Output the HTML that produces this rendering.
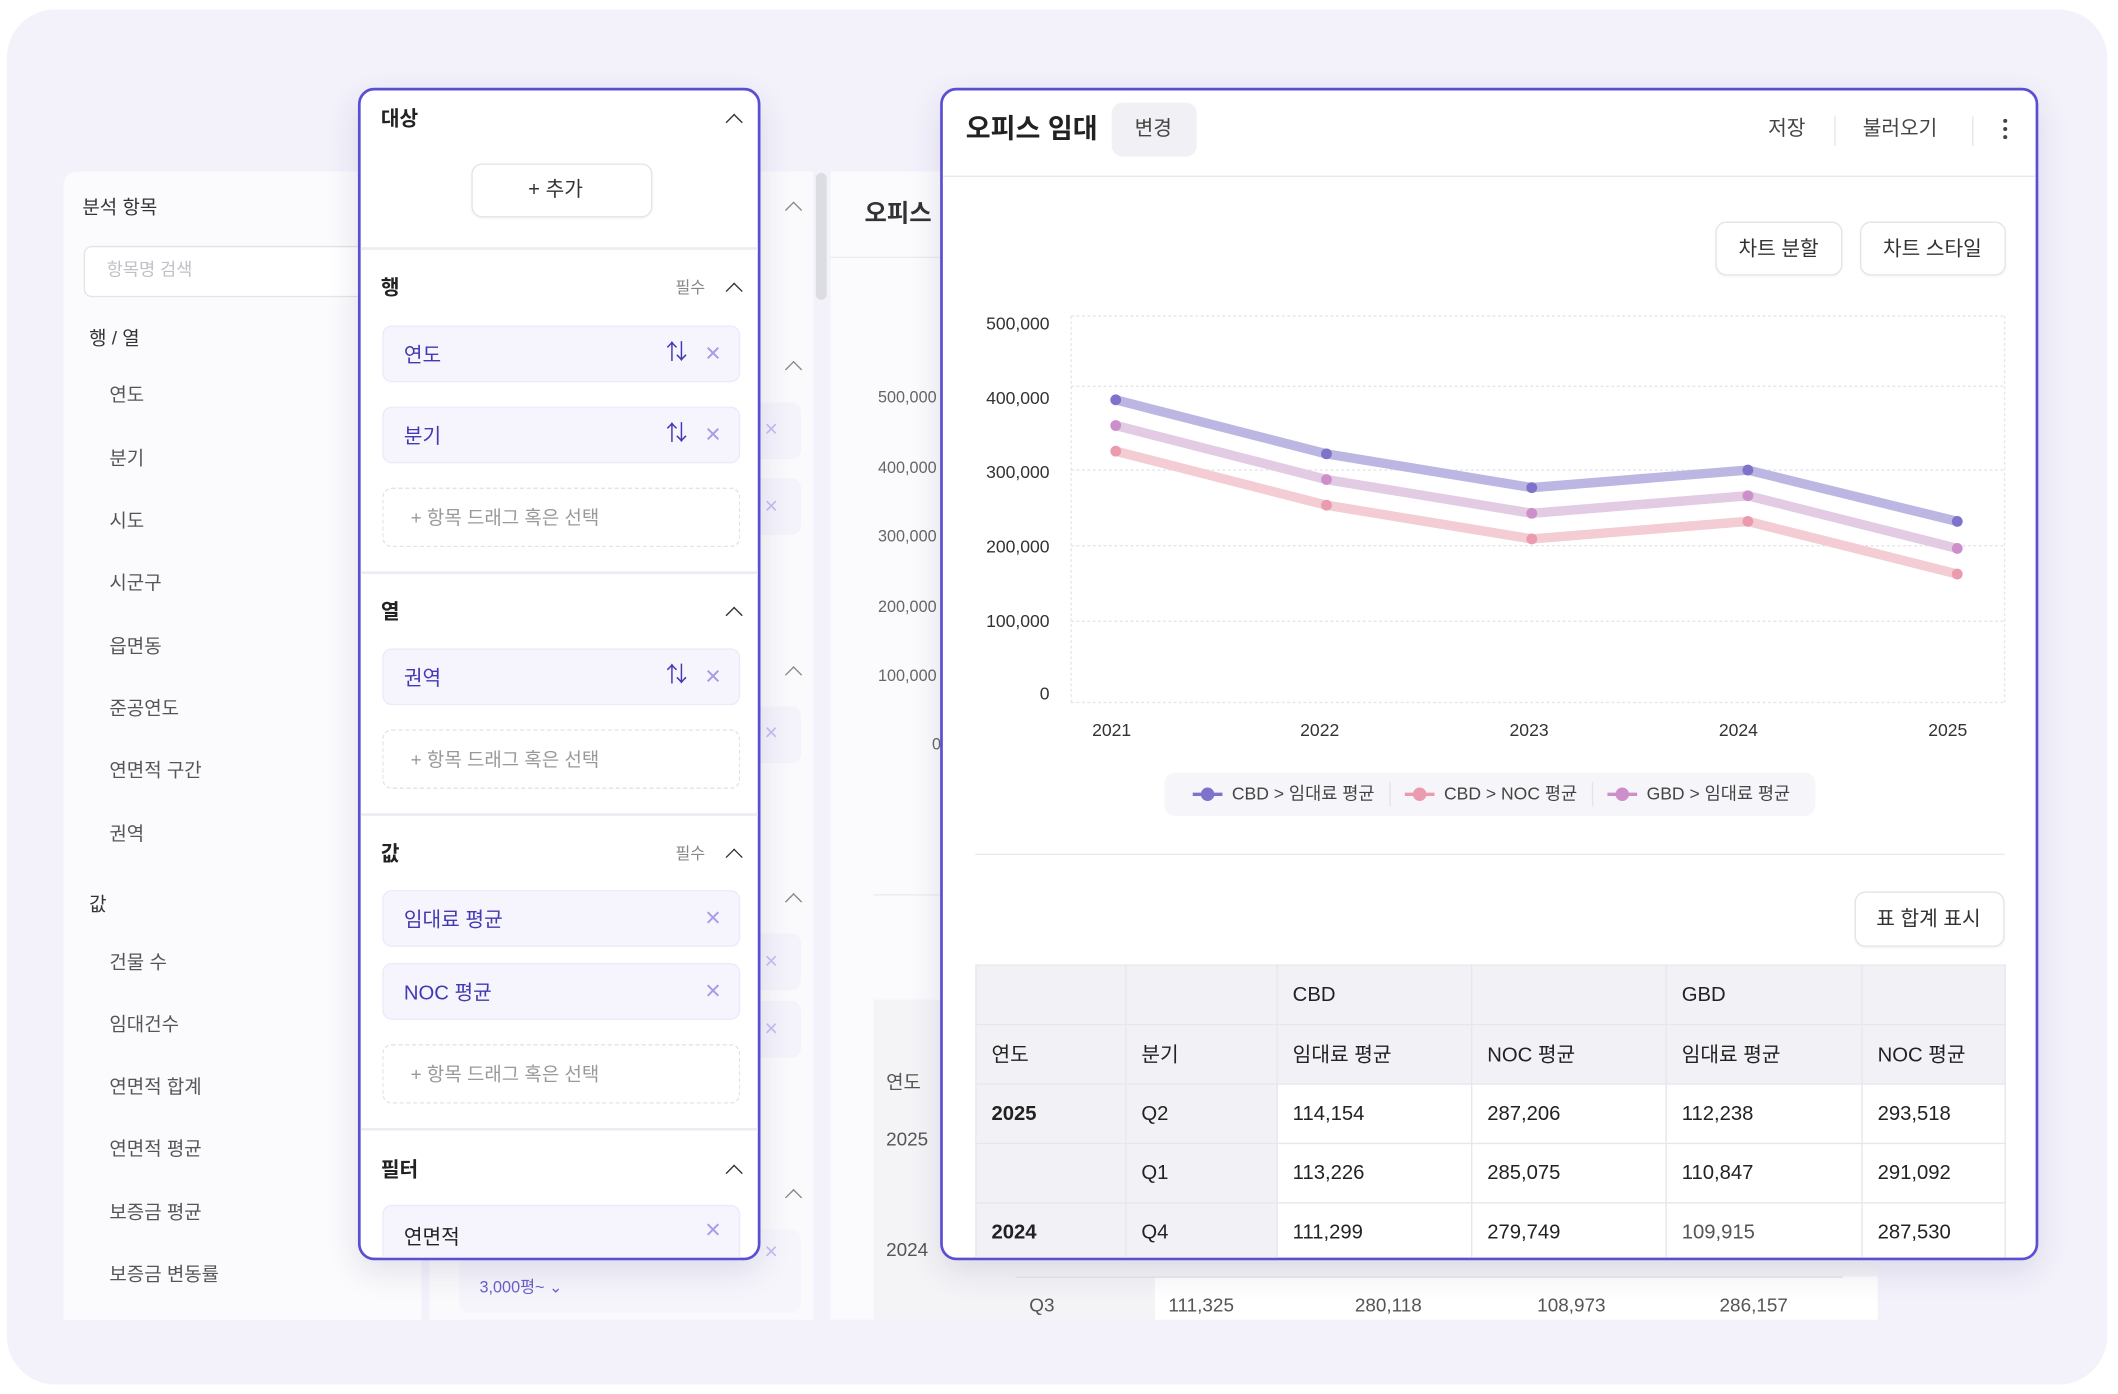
<!DOCTYPE html>
<html><head><meta charset="utf-8">
<style>
html,body{margin:0;padding:0;background:#fff;overflow:hidden;}
body{width:2118px;height:1394px;}
#w{position:absolute;left:0;top:0;width:1568px;height:1032px;transform:scale(1.35077);transform-origin:0 0;font-family:"Liberation Sans","Noto Sans CJK KR",sans-serif;color:#222;}
.a{position:absolute;}
.t{position:absolute;white-space:nowrap;line-height:1;}
.chev{position:absolute;width:8px;height:8px;border-left:1.6px solid #333;border-top:1.6px solid #333;transform:rotate(45deg);}
.chevl{position:absolute;width:8px;height:8px;border-left:1.4px solid #888;border-top:1.4px solid #888;transform:rotate(45deg);}
.item{position:absolute;left:16px;width:265px;height:42px;background:#f6f5fe;border:1px solid #eceaf9;border-radius:7px;box-sizing:border-box;}
.item .t{left:15px;top:14px;font-size:15px;color:#4339b0;}
.x{position:absolute;font-size:20px;color:#a59be8;line-height:1;}
.dash{position:absolute;left:16px;width:265px;height:44px;border:1.2px dashed #e2e2ea;border-radius:7px;box-sizing:border-box;}
.dash .t{left:20px;top:14px;font-size:14px;color:#999;}
.div{position:absolute;left:0;width:296px;height:2px;background:#ececf2;}
.btn{position:absolute;border:1px solid #e3e3ea;border-radius:8px;background:#fff;box-sizing:border-box;box-shadow:0 1px 2px rgba(0,0,0,.04);}
td{border:1px solid #e6e6ec;padding:0 0 0 11px;height:43px;font-size:15px;color:#222;box-sizing:border-box;}
</style></head><body><div id="w">
<div class="a" style="left:5px;top:7px;width:1555px;height:1018px;background:#f3f2fb;border-radius:36px;"></div>

<div class="a" style="left:47px;top:127px;width:265px;height:850px;background:#fbfbfd;border-radius:10px 0 0 0;"></div>
<div class="t" style="left:61px;top:146px;font-size:14px;color:#333;">분석 항목</div>
<div class="a" style="left:62px;top:182px;width:210px;height:36px;border:1px solid #e3e3ea;border-radius:6px;background:#fff;"></div>
<div class="t" style="left:79px;top:193px;font-size:13px;color:#c0c0c8;">항목명 검색</div>
<div class="t" style="left:66px;top:243px;font-size:14px;color:#333;">행 / 열</div>
<div class="t" style="left:81px;top:285px;font-size:14px;color:#555;">연도</div>
<div class="t" style="left:81px;top:332px;font-size:14px;color:#555;">분기</div>
<div class="t" style="left:81px;top:378px;font-size:14px;color:#555;">시도</div>
<div class="t" style="left:81px;top:424px;font-size:14px;color:#555;">시군구</div>
<div class="t" style="left:81px;top:471px;font-size:14px;color:#555;">읍면동</div>
<div class="t" style="left:81px;top:517px;font-size:14px;color:#555;">준공연도</div>
<div class="t" style="left:81px;top:563px;font-size:14px;color:#555;">연면적 구간</div>
<div class="t" style="left:81px;top:610px;font-size:14px;color:#555;">권역</div>
<div class="t" style="left:66px;top:662px;font-size:14px;color:#333;">값</div>
<div class="t" style="left:81px;top:705px;font-size:14px;color:#555;">건물 수</div>
<div class="t" style="left:81px;top:751px;font-size:14px;color:#555;">임대건수</div>
<div class="t" style="left:81px;top:797px;font-size:14px;color:#555;">연면적 합계</div>
<div class="t" style="left:81px;top:843px;font-size:14px;color:#555;">연면적 평균</div>
<div class="t" style="left:81px;top:890px;font-size:14px;color:#555;">보증금 평균</div>
<div class="t" style="left:81px;top:936px;font-size:14px;color:#555;">보증금 변동률</div>

<div class="a" style="left:318px;top:127px;width:284px;height:850px;background:#fafafc;"></div>
<div class="chevl" style="left:583px;top:151px;"></div>
<div class="chevl" style="left:583px;top:269px;"></div>
<div class="chevl" style="left:583px;top:495px;"></div>
<div class="chevl" style="left:583px;top:663px;"></div>
<div class="chevl" style="left:583px;top:882px;"></div>
<div class="a" style="left:562px;top:298px;width:31px;height:42px;background:#f4f3fb;border-radius:0 7px 7px 0;"></div>
<div class="a" style="left:562px;top:354px;width:31px;height:42px;background:#f4f3fb;border-radius:0 7px 7px 0;"></div>
<div class="a" style="left:562px;top:523px;width:31px;height:42px;background:#f4f3fb;border-radius:0 7px 7px 0;"></div>
<div class="a" style="left:562px;top:691px;width:31px;height:42px;background:#f4f3fb;border-radius:0 7px 7px 0;"></div>
<div class="a" style="left:562px;top:741px;width:31px;height:42px;background:#f4f3fb;border-radius:0 7px 7px 0;"></div>
<div class="x" style="left:566px;top:309px;color:#c4bdf0;font-size:17px;">×</div>
<div class="x" style="left:566px;top:366px;color:#c4bdf0;font-size:17px;">×</div>
<div class="x" style="left:566px;top:534px;color:#c4bdf0;font-size:17px;">×</div>
<div class="x" style="left:566px;top:703px;color:#c4bdf0;font-size:17px;">×</div>
<div class="x" style="left:566px;top:753px;color:#c4bdf0;font-size:17px;">×</div>
<div class="a" style="left:340px;top:910px;width:253px;height:62px;background:#f6f5fc;border-radius:8px;"></div>
<div class="x" style="left:566px;top:918px;color:#c4bdf0;font-size:17px;">×</div>
<div class="t" style="left:355px;top:947px;font-size:12px;color:#6b60c8;">3,000평~ ⌄</div>
<div class="a" style="left:604px;top:128px;width:8px;height:94px;background:#dcdce3;border-radius:4px;"></div>

<div class="a" style="left:615px;top:127px;width:775px;height:850px;background:#fbfbfd;"></div>
<div class="t" style="left:640px;top:149px;font-size:18px;font-weight:bold;color:#333;">오피스</div>
<div class="a" style="left:615px;top:190px;width:81px;height:1px;background:#ebebf0;"></div>
<div class="t" style="left:650px;top:288px;font-size:12px;color:#666;">500,000</div>
<div class="t" style="left:650px;top:340px;font-size:12px;color:#666;">400,000</div>
<div class="t" style="left:650px;top:391px;font-size:12px;color:#666;">300,000</div>
<div class="t" style="left:650px;top:443px;font-size:12px;color:#666;">200,000</div>
<div class="t" style="left:650px;top:494px;font-size:12px;color:#666;">100,000</div>
<div class="t" style="left:690px;top:545px;font-size:12px;color:#666;">0</div>
<div class="a" style="left:647px;top:662px;width:49px;height:1px;background:#ebebf0;"></div>
<div class="a" style="left:647px;top:740px;width:743px;height:237px;background:#f4f4f7;"></div>
<div class="a" style="left:855px;top:945px;width:535px;height:32px;background:#fff;"></div>
<div class="t" style="left:656px;top:794px;font-size:14px;color:#555;">연도</div>
<div class="t" style="left:656px;top:836px;font-size:14px;color:#555;">2025</div>
<div class="t" style="left:656px;top:918px;font-size:14px;color:#555;">2024</div>
<div class="t" style="left:762px;top:959px;font-size:14px;color:#555;">Q3</div>
<div class="t" style="left:865px;top:959px;font-size:14px;color:#555;">111,325</div>
<div class="t" style="left:1003px;top:959px;font-size:14px;color:#555;">280,118</div>
<div class="t" style="left:1138px;top:959px;font-size:14px;color:#555;">108,973</div>
<div class="t" style="left:1273px;top:959px;font-size:14px;color:#555;">286,157</div>
<div class="a" style="left:752px;top:945px;width:612px;height:1px;background:#e4e4ea;"></div>

<div class="a" style="left:265px;top:65px;width:298px;height:868px;background:#fff;border:2px solid #5a4fd3;border-radius:12px;box-sizing:border-box;overflow:hidden;box-shadow:0 8px 24px rgba(40,30,90,.12);">
 <div class="t" style="left:15px;top:14px;font-size:15px;font-weight:bold;">대상</div>
 <div class="chev" style="left:272px;top:19px;"></div>
 <div class="btn" style="left:82px;top:54px;width:134px;height:40px;"></div>
 <div class="t" style="left:124px;top:66px;font-size:15px;color:#333;">+ 추가</div>
 <div class="div" style="top:116px;"></div>
 <div class="t" style="left:15px;top:139px;font-size:15px;font-weight:bold;">행</div>
 <div class="t" style="left:233px;top:140px;font-size:12px;color:#888;">필수</div>
 <div class="chev" style="left:272px;top:144px;"></div>
 <div class="item" style="top:174px;"><div class="t">연도</div><div class="t" style="left:209px;top:12px;font-size:16px;color:#4339b0;">⇅</div><div class="x" style="left:238px;top:10px;">×</div></div>
 <div class="item" style="top:234px;"><div class="t">분기</div><div class="t" style="left:209px;top:12px;font-size:16px;color:#4339b0;">⇅</div><div class="x" style="left:238px;top:10px;">×</div></div>
 <div class="dash" style="top:294px;"><div class="t">+ 항목 드래그 혹은 선택</div></div>
 <div class="div" style="top:356px;"></div>
 <div class="t" style="left:15px;top:379px;font-size:15px;font-weight:bold;">열</div>
 <div class="chev" style="left:272px;top:384px;"></div>
 <div class="item" style="top:413px;"><div class="t">권역</div><div class="t" style="left:209px;top:12px;font-size:16px;color:#4339b0;">⇅</div><div class="x" style="left:238px;top:10px;">×</div></div>
 <div class="dash" style="top:473px;"><div class="t">+ 항목 드래그 혹은 선택</div></div>
 <div class="div" style="top:535px;"></div>
 <div class="t" style="left:15px;top:558px;font-size:15px;font-weight:bold;">값</div>
 <div class="t" style="left:233px;top:559px;font-size:12px;color:#888;">필수</div>
 <div class="chev" style="left:272px;top:563px;"></div>
 <div class="item" style="top:592px;"><div class="t">임대료 평균</div><div class="x" style="left:238px;top:10px;">×</div></div>
 <div class="item" style="top:646px;"><div class="t">NOC 평균</div><div class="x" style="left:238px;top:10px;">×</div></div>
 <div class="dash" style="top:706px;"><div class="t">+ 항목 드래그 혹은 선택</div></div>
 <div class="div" style="top:768px;"></div>
 <div class="t" style="left:15px;top:792px;font-size:15px;font-weight:bold;">필터</div>
 <div class="chev" style="left:272px;top:797px;"></div>
 <div class="item" style="top:825px;height:60px;"><div class="t" style="color:#222;top:16px;">연면적</div><div class="x" style="left:238px;top:8px;">×</div></div>
</div>

<div class="a" style="left:696px;top:65px;width:813px;height:868px;background:#fff;border:2px solid #5a4fd3;border-radius:12px;box-sizing:border-box;overflow:hidden;box-shadow:0 8px 24px rgba(40,30,90,.12);">
 <div class="t" style="left:17px;top:19px;font-size:20px;font-weight:bold;color:#222;">오피스 임대</div>
 <div class="a" style="left:125px;top:9px;width:63px;height:40px;background:#f1f1f5;border-radius:8px;"></div>
 <div class="t" style="left:142px;top:21px;font-size:15px;color:#444;">변경</div>
 <div class="t" style="left:611px;top:21px;font-size:15px;color:#444;">저장</div>
 <div class="a" style="left:660px;top:19px;width:1px;height:22px;background:#e6e6ec;"></div>
 <div class="t" style="left:681px;top:21px;font-size:15px;color:#444;">불러오기</div>
 <div class="a" style="left:762px;top:19px;width:1px;height:22px;background:#e6e6ec;"></div>
 <div class="a" style="left:785px;top:21px;width:3px;height:3px;background:#444;border-radius:2px;box-shadow:0 6px 0 #444,0 12px 0 #444;"></div>
 <div class="a" style="left:0;top:63px;width:813px;height:1px;background:#e8e8ee;"></div>
 <div class="btn" style="left:572px;top:97px;width:94px;height:40px;"></div>
 <div class="t" style="left:589px;top:110px;font-size:15px;color:#333;">차트 분할</div>
 <div class="btn" style="left:679px;top:97px;width:108px;height:40px;"></div>
 <div class="t" style="left:696px;top:110px;font-size:15px;color:#333;">차트 스타일</div>
 <div class="a" style="left:24px;top:565px;width:762px;height:1px;background:#e8e8ee;"></div>
 <div class="btn" style="left:675px;top:593px;width:111px;height:41px;"></div>
 <div class="t" style="left:691px;top:606px;font-size:15px;color:#333;">표 합계 표시</div>
 <table class="a" style="left:24px;top:647px;width:762px;border-collapse:collapse;table-layout:fixed;">
  <colgroup><col style="width:111px"><col style="width:112px"><col style="width:144px"><col style="width:144px"><col style="width:145px"><col style="width:106px"></colgroup>
  <tr style="background:#f2f2f6;height:44px;"><td></td><td></td><td>CBD</td><td></td><td>GBD</td><td></td></tr>
  <tr style="background:#f2f2f6;height:44px;"><td>연도</td><td>분기</td><td>임대료 평균</td><td>NOC 평균</td><td>임대료 평균</td><td>NOC 평균</td></tr>
  <tr style="height:44px;"><td style="background:#f2f2f6;font-weight:bold;">2025</td><td style="background:#f2f2f6;">Q2</td><td>114,154</td><td>287,206</td><td>112,238</td><td>293,518</td></tr>
  <tr style="height:44px;"><td style="background:#f2f2f6;"></td><td style="background:#f2f2f6;">Q1</td><td>113,226</td><td>285,075</td><td>110,847</td><td>291,092</td></tr>
  <tr style="height:44px;"><td style="background:#f2f2f6;font-weight:bold;">2024</td><td style="background:#f2f2f6;">Q4</td><td>111,299</td><td>279,749</td><td style="color:#555;">109,915</td><td>287,530</td></tr>
 </table>
</div>

<svg class="a" style="left:0;top:0;" width="1568" height="1032" font-family="Liberation Sans, sans-serif">
 <g stroke="#e4e4ea" stroke-width="1" stroke-dasharray="2,2" fill="none">
  <line x1="793" y1="234" x2="1484" y2="234"/>
  <line x1="793" y1="286" x2="1484" y2="286"/>
  <line x1="793" y1="348" x2="1484" y2="348"/>
  <line x1="793" y1="404" x2="1484" y2="404"/>
  <line x1="793" y1="460" x2="1484" y2="460"/>
  <line x1="793" y1="520" x2="1484" y2="520"/>
  <line x1="793" y1="234" x2="793" y2="520"/>
  <line x1="1484" y1="234" x2="1484" y2="520"/>
 </g>
 <g font-size="13" fill="#333" text-anchor="end">
  <text x="777" y="244">500,000</text><text x="777" y="299">400,000</text><text x="777" y="354">300,000</text>
  <text x="777" y="409">200,000</text><text x="777" y="464">100,000</text><text x="777" y="518">0</text>
 </g>
 <g font-size="13" fill="#333" text-anchor="middle">
  <text x="823" y="545">2021</text><text x="977" y="545">2022</text><text x="1132" y="545">2023</text><text x="1287" y="545">2024</text><text x="1442" y="545">2025</text>
 </g>
 <g fill="none" stroke-width="7" stroke-linejoin="round" stroke-linecap="round">
  <polyline stroke="#f3ccd4" points="826,334 982,374 1134,399 1294,386 1449,425"/>
  <polyline stroke="#e2cbe3" points="826,315 982,355 1134,380 1294,367 1449,406"/>
  <polyline stroke="#bcb6e2" points="826,296 982,336 1134,361 1294,348 1449,386"/>
 </g>
 <g fill="#ea9cae"><circle cx="826" cy="334" r="4"/><circle cx="982" cy="374" r="4"/><circle cx="1134" cy="399" r="4"/><circle cx="1294" cy="386" r="4"/><circle cx="1449" cy="425" r="4"/></g>
 <g fill="#cc8fc9"><circle cx="826" cy="315" r="4"/><circle cx="982" cy="355" r="4"/><circle cx="1134" cy="380" r="4"/><circle cx="1294" cy="367" r="4"/><circle cx="1449" cy="406" r="4"/></g>
 <g fill="#7d73ca"><circle cx="826" cy="296" r="4"/><circle cx="982" cy="336" r="4"/><circle cx="1134" cy="361" r="4"/><circle cx="1294" cy="348" r="4"/><circle cx="1449" cy="386" r="4"/></g>
 <rect x="862" y="572" width="482" height="32" rx="8" fill="#f6f6fa"/>
 <line x1="883" y1="588" x2="905" y2="588" stroke="#7d73ca" stroke-width="2.5"/><circle cx="894" cy="588" r="5" fill="#7d73ca"/>
 <line x1="1040" y1="588" x2="1062" y2="588" stroke="#ea9cae" stroke-width="2.5"/><circle cx="1051" cy="588" r="5" fill="#ea9cae"/>
 <line x1="1190" y1="588" x2="1212" y2="588" stroke="#cc8fc9" stroke-width="2.5"/><circle cx="1201" cy="588" r="5" fill="#cc8fc9"/>
 <line x1="1029" y1="579" x2="1029" y2="597" stroke="#e2e2ea"/>
 <line x1="1179" y1="579" x2="1179" y2="597" stroke="#e2e2ea"/>
 <g font-size="13" fill="#444" font-family="Liberation Sans, Noto Sans CJK KR, sans-serif">
  <text x="912" y="592">CBD &gt; 임대료 평균</text><text x="1069" y="592">CBD &gt; NOC 평균</text><text x="1219" y="592">GBD &gt; 임대료 평균</text>
 </g>
</svg>
</div></body></html>
